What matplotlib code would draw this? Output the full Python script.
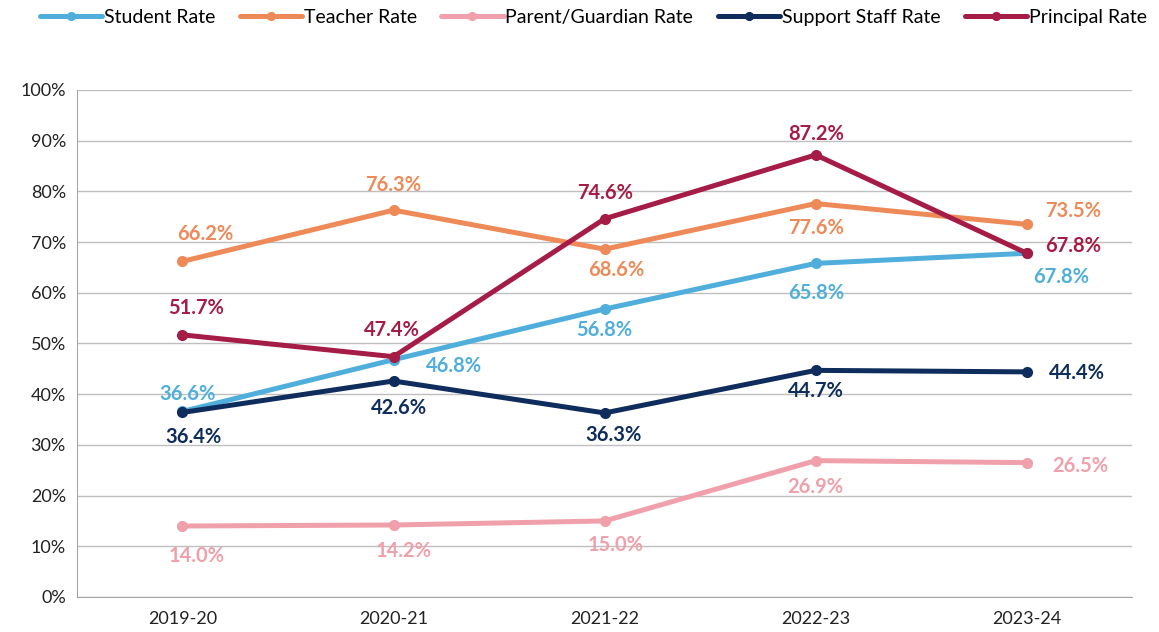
import matplotlib.pyplot as plt
from matplotlib.ticker import PercentFormatter

plt.rcParams['font.family'] = ['Lato', 'DejaVu Sans']

years = ['2019-20', '2020-21', '2021-22', '2022-23', '2023-24']
student = [36.6, 46.8, 56.8, 65.8, 67.8]
teacher = [66.2, 76.3, 68.6, 77.6, 73.5]
parent = [14.0, 14.2, 15.0, 26.9, 26.5]
support = [36.4, 42.6, 36.3, 44.7, 44.4]
principal = [51.7, 47.4, 74.6, 87.2, 67.8]

# label offsets in pixels (dx, dy) per point
student_off = [(5, 17), (60, -6), (0, -21), (0, -30), (34, -24)]
teacher_off = [(23, 27), (0, 25), (12, -21), (0, -24), (46, 13)]
parent_off = [(14, -30), (10, -26), (11, -24), (0, -26), (54, -3)]
support_off = [(11, -25), (5, -27), (9, -22), (0, -21), (50, -1)]
principal_off = [(14, 27), (-2, 27), (0, 26), (0, 21), (46, 7)]

series = [
    ('Student Rate', student, '#4FAEDB', student_off),
    ('Teacher Rate', teacher, '#ED8A58', teacher_off),
    ('Parent/Guardian Rate', parent, '#F0A0AA', parent_off),
    ('Support Staff Rate', support, '#0E2D5C', support_off),
    ('Principal Rate', principal, '#A51C46', principal_off),
]

fig = plt.figure(figsize=(11.59, 6.32), dpi=100)
ax = fig.add_axes([0.0664, 0.0554, 0.9106, 0.8022])
x = range(len(years))

for name, vals, col, offs in series:
    ax.plot(x, vals, color=col, lw=3.6, marker='o', markersize=7, label=name,
            solid_capstyle='round')
    for i, v in enumerate(vals):
        dx, dy = offs[i]
        ax.annotate('%.1f%%' % v, (i, v), xytext=(dx * 0.72, dy * 0.72),
                    textcoords='offset points', ha='center', va='center',
                    color=col, fontsize=14.5, fontweight='bold')

ax.set_xlim(-0.5, 4.5)
ax.set_ylim(0, 100)
ax.set_yticks(range(0, 101, 10))
ax.yaxis.set_major_formatter(PercentFormatter(decimals=0))
ax.set_xticks(list(x))
ax.set_xticklabels(years)
ax.grid(axis='y', color='#BFBFBF', lw=1)
ax.set_axisbelow(True)
for s in ['top', 'right']:
    ax.spines[s].set_visible(False)
ax.spines['left'].set_color('#A6A6A6')
ax.spines['bottom'].set_color('#A6A6A6')
ax.tick_params(axis='both', length=0, labelsize=13, colors='#222222')
ax.tick_params(axis='y', pad=8)
ax.tick_params(axis='x', pad=10)

fig.legend(loc='upper center', bbox_to_anchor=(0.512, 1.014), ncol=5, frameon=False,
           fontsize=14, handlelength=3.2, columnspacing=1.25, handletextpad=0.1,
           markerscale=0.8)

fig.savefig('out.png', dpi=100)
